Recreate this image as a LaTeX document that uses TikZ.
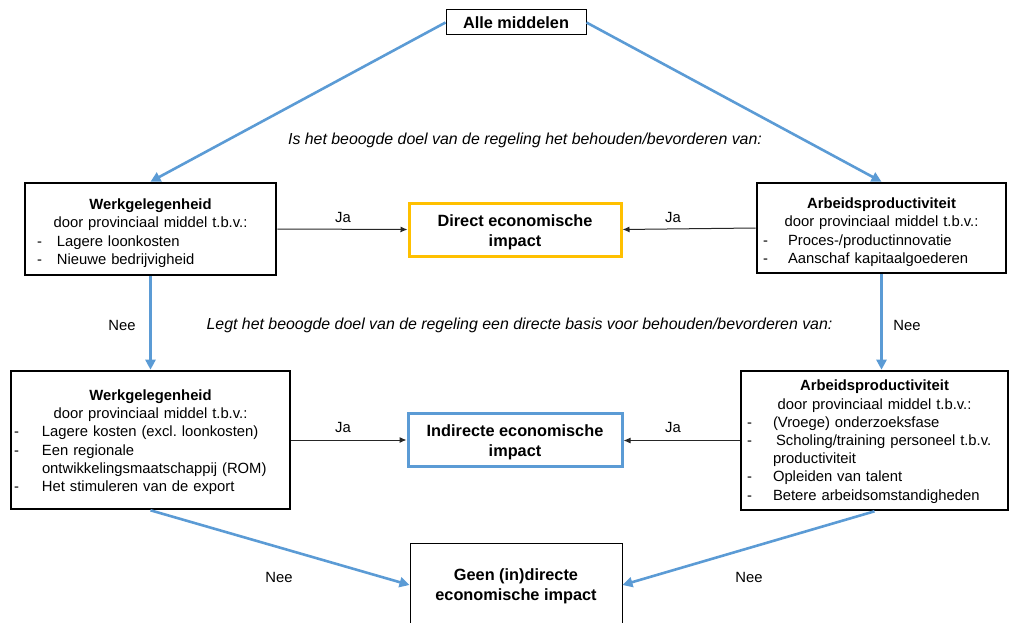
\documentclass[tikz,border=0pt]{standalone}
\usepackage{fontspec}
\setmainfont{Liberation Sans}
\usetikzlibrary{arrows.meta}
\definecolor{ablue}{HTML}{5B9BD5}
\definecolor{aorange}{HTML}{FFC000}
\newcommand\bli[3]{\noindent\hspace*{#1pt}\makebox[#2pt][l]{-}#3\par}
\newcommand\blc[2]{\noindent\hspace*{#1pt}#2\par}
\frenchspacing
\begin{document}
\begin{tikzpicture}[x=1pt,y=-1pt,
  txt/.style={font=\fontsize{14.8}{18.2}\selectfont},
  qtxt/.style={font=\fontsize{15.9}{18.2}\selectfont\itshape,inner sep=0pt},
  big/.style={font=\fontsize{16.3}{20}\selectfont\bfseries},
  catbox/.style={draw=black,line width=2.6pt,inner xsep=0pt,inner ysep=0pt,txt},
  impbox/.style={line width=3pt,fill=white,inner sep=0pt,big,align=center},
  barrow/.style={draw=ablue,line width=2.6pt,-{Triangle[length=10pt,width=10pt]}},
  karrow/.style={draw=black!85,line width=1pt,-{Latex[length=7pt,width=6pt]}},
  lbl/.style={txt,inner sep=0pt}]
\clip (0,0) rectangle (1011,623);
\useasboundingbox (0,0) rectangle (1011,623);

\node[draw=black,line width=1pt,minimum width=140pt,minimum height=25pt,inner sep=0pt,big] (top) at (516,22.5) {Alle middelen};

\node[catbox,text width=251pt,minimum height=92pt] (lt) at (150.5,229)
 {{\centering\rule{0pt}{19pt}\textbf{Werkgelegenheid}\\door provinciaal middel t.b.v.:\par}
  \bli{12}{20}{Lagere loonkosten}\bli{12}{20}{Nieuwe bedrijvigheid}};

\node[catbox,text width=249pt,minimum height=90pt] (rt) at (881.5,228)
 {{\centering\rule{0pt}{19pt}\textbf{Arbeidsproductiviteit}\\door provinciaal middel t.b.v.:\par}
  \bli{6}{25}{Proces-/productinnovatie}\bli{6}{25}{Aanschaf kapitaalgoederen}};

\node[catbox,text width=279pt,minimum height=138pt] (lb) at (150.5,440)
 {{\centering\rule{0pt}{15pt}\textbf{Werkgelegenheid}\\door provinciaal middel t.b.v.:\par}
  \bli{3}{28}{Lagere kosten (excl. loonkosten)}\bli{3}{28}{Een regionale}\blc{31}{ontwikkelingsmaatschappij (ROM)}\bli{3}{28}{Het stimuleren van de export}};

\node[catbox,text width=267pt,minimum height=139pt] (rb) at (874.5,440.5)
 {{\centering\rule{0pt}{13pt}\textbf{Arbeidsproductiviteit}\\door provinciaal middel t.b.v.:\par}
  \bli{6}{26}{(Vroege) onderzoeksfase}\bli{6}{26}{\hspace*{3pt}Scholing/training personeel t.b.v.}\blc{32}{productiviteit}\bli{6}{26}{Opleiden van talent}\bli{6}{26}{Betere arbeidsomstandigheden}};

\node[impbox,draw=aorange,minimum width=212pt,minimum height=53pt] (dir) at (515,229.5) {\rule{0pt}{18pt}Direct economische\\impact};
\node[impbox,draw=ablue,minimum width=214pt,minimum height=53pt] (ind) at (515,439.5) {\rule{0pt}{17pt}Indirecte economische\\impact};
\node[draw=black,line width=1pt,minimum width=212pt,minimum height=84pt,inner sep=0pt,big,align=center] (geen) at (516,585) {\rule{0pt}{14pt}Geen (in)directe\\economische impact};

\node[qtxt] (q1) at (525,140) {Is het beoogde doel van de regeling het behouden/bevorderen van:};
\node[qtxt] (q2) at (519.5,325) {Legt het beoogde doel van de regeling een directe basis voor behouden/bevorderen van:};

\draw[barrow] (top.west) -- (lt.north);
\draw[barrow] (top.east) -- (rt.north);
\draw[barrow] (lt.south) -- (lt.south |- lb.north);
\draw[barrow] (rt.south) -- (rt.south |- rb.north);
\draw[barrow] (lb.south) -- (geen.west);
\draw[barrow] (rb.south) -- (geen.east);

\draw[karrow] (lt.east) -- (dir.west);
\draw[karrow] (rt.west) -- (dir.east);
\draw[karrow] (lb.east) -- (lb.east -| ind.west);
\draw[karrow] (rb.west) -- (rb.west -| ind.east);

\node[lbl] (ja1) at (343,217) {Ja};
\node[lbl] (ja2) at (673,217) {Ja};
\node[lbl] (ja3) at (343,427) {Ja};
\node[lbl] (ja4) at (673,427) {Ja};
\node[lbl] (nee1) at (122,325) {Nee};
\node[lbl] (nee2) at (907,325) {Nee};
\node[lbl] (nee3) at (279,577) {Nee};
\node[lbl] (nee4) at (749,577) {Nee};
\end{tikzpicture}
\end{document}
